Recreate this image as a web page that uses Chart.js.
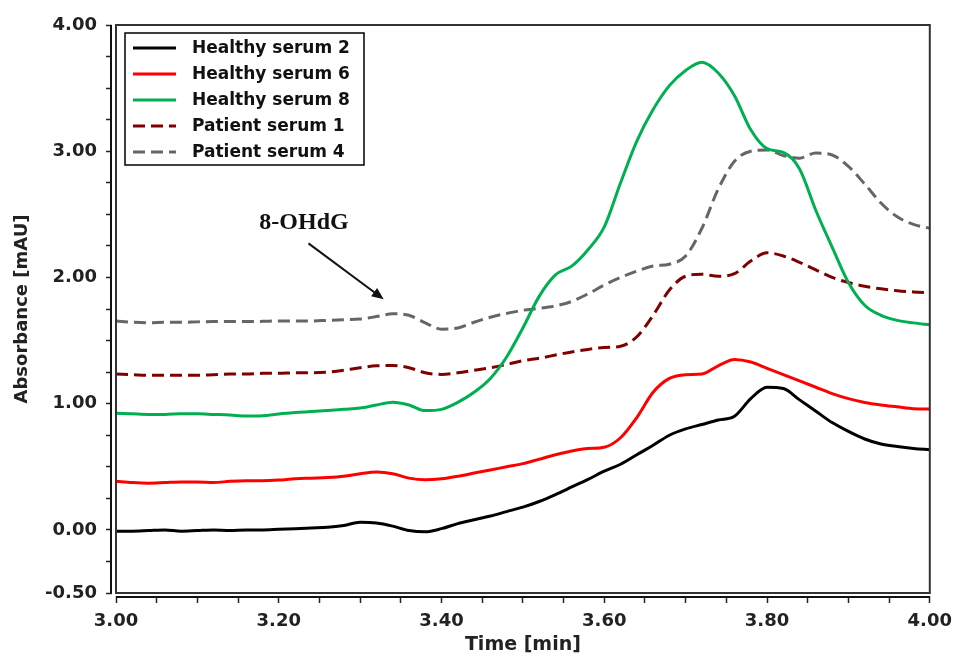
<!DOCTYPE html>
<html lang="en">
<head>
    <meta charset="UTF-8">
    <title>Absorbance vs Time</title>
    <script src="https://cdn.jsdelivr.net/npm/chart.js"></script>
    <style>
        html, body {
            margin: 0;
            padding: 0;
            background: #ffffff;
        }
        #wrap {
            width: 960px;
            height: 657px;
        }
    </style>
</head>
<body>
    <div id="wrap"><canvas id="grafica"></canvas></div>

    <script>
        // tiempo (min), paso 0.02
        const tiempos = [
            3.00, 3.02, 3.04, 3.06, 3.08, 3.10, 3.12, 3.14, 3.16, 3.18,
            3.20, 3.22, 3.24, 3.26, 3.28, 3.30, 3.32, 3.34, 3.36, 3.38,
            3.40, 3.42, 3.44, 3.46, 3.48, 3.50, 3.52, 3.54, 3.56, 3.58,
            3.60, 3.62, 3.64, 3.66, 3.68, 3.70, 3.72, 3.74, 3.76, 3.78,
            3.80, 3.82, 3.84, 3.86, 3.88, 3.90, 3.92, 3.94, 3.96, 3.98, 4.00
        ];

        const healthy2 = [
            -0.01, -0.01, -0.005, 0.0, -0.01, -0.005, 0.0, -0.005, 0.0, 0.0,
            0.005, 0.01, 0.015, 0.02, 0.035, 0.06, 0.055, 0.03, -0.005, -0.015,
            0.01, 0.05, 0.08, 0.11, 0.145, 0.18, 0.225, 0.28, 0.34, 0.40,
            0.465, 0.52, 0.595, 0.67, 0.75, 0.80, 0.835, 0.87, 0.90, 1.04,
            1.13, 1.12, 1.03, 0.94, 0.85, 0.78, 0.72, 0.68, 0.66, 0.645, 0.635
        ];

        const healthy6 = [
            0.385, 0.375, 0.37, 0.375, 0.38, 0.38, 0.375, 0.385, 0.39, 0.39,
            0.395, 0.405, 0.41, 0.415, 0.425, 0.445, 0.458, 0.445, 0.41, 0.397,
            0.405, 0.425, 0.45, 0.475, 0.50, 0.525, 0.56, 0.595, 0.625, 0.645,
            0.655, 0.73, 0.89, 1.09, 1.20, 1.23, 1.235, 1.30, 1.35, 1.33,
            1.28, 1.23, 1.18, 1.13, 1.08, 1.04, 1.01, 0.99, 0.975, 0.96, 0.958
        ];

        const healthy8 = [
            0.925, 0.92, 0.915, 0.915, 0.92, 0.92, 0.915, 0.91, 0.902, 0.905,
            0.918, 0.93, 0.937, 0.945, 0.955, 0.965, 0.99, 1.012, 0.99, 0.945,
            0.955, 1.01, 1.09, 1.20, 1.37, 1.60, 1.85, 2.02, 2.09, 2.22,
            2.40, 2.75, 3.08, 3.33, 3.52, 3.64, 3.705, 3.62, 3.44, 3.17,
            3.02, 2.99, 2.86, 2.53, 2.24, 1.96, 1.78, 1.70, 1.66, 1.64, 1.625
        ];

        const patient1 = [
            1.235, 1.23, 1.225, 1.225, 1.225, 1.225, 1.23, 1.235, 1.235, 1.24,
            1.24, 1.245, 1.245, 1.25, 1.265, 1.285, 1.30, 1.302, 1.285, 1.245,
            1.232, 1.245, 1.265, 1.285, 1.31, 1.34, 1.36, 1.385, 1.41, 1.43,
            1.445, 1.455, 1.53, 1.70, 1.90, 2.01, 2.025, 2.01, 2.03, 2.13,
            2.195, 2.17, 2.12, 2.06, 2.00, 1.96, 1.93, 1.91, 1.895, 1.885, 1.88
        ];

        const patient4 = [
            1.655, 1.645, 1.64, 1.645, 1.645, 1.648, 1.65, 1.65, 1.65, 1.652,
            1.655, 1.655, 1.655, 1.66, 1.665, 1.67, 1.69, 1.712, 1.70, 1.64,
            1.59, 1.60, 1.645, 1.685, 1.715, 1.74, 1.755, 1.775, 1.81, 1.87,
            1.94, 2.00, 2.05, 2.09, 2.105, 2.17, 2.39, 2.70, 2.92, 3.00,
            3.01, 2.965, 2.945, 2.985, 2.97, 2.88, 2.74, 2.59, 2.48, 2.42, 2.39
        ];

        const nombresSeries = ['Healthy serum 2', 'Healthy serum 6', 'Healthy serum 8', 'Patient serum 1', 'Patient serum 4'];
        const coloresSeries = ['#000000', '#ff0000', '#00b050', '#800000', '#666666'];
        const valoresSeries = [healthy2, healthy6, healthy8, patient1, patient4];

        // anotacion: texto y flecha en coordenadas de datos
        const textoPico = '8-OHdG';
        const posTexto = [3.231, 2.43];
        const flechaDesde = [3.2365, 2.27];
        const flechaHasta = [3.329, 1.827];

        const fuente = "'DejaVu Sans', Arial, sans-serif";

        const datasets = valoresSeries.map((vals, i) => ({
            label: nombresSeries[i],
            data: tiempos.map((t, j) => ({ x: t, y: vals[j] })),
            borderColor: coloresSeries[i],
            borderWidth: 3,
            borderDash: i >= 3 ? [12, 6] : [],
            pointRadius: 0,
            fill: false,
            cubicInterpolationMode: 'monotone'
        }));

        // marco, ejes desplazados, leyenda y anotacion
        const marcoPlugin = {
            id: 'marco',
            afterDraw(chart) {
                const ctx = chart.ctx;
                const a = chart.chartArea;
                const xs = chart.scales.x;
                const ys = chart.scales.y;
                ctx.save();

                // hueco blanco entre marco y ejes
                ctx.fillStyle = '#ffffff';
                ctx.fillRect(a.left - 4, a.top - 2, 3, a.bottom - a.top + 10);
                ctx.fillRect(a.left - 4, a.bottom + 1, a.right - a.left + 8, 2);

                // marco
                ctx.strokeStyle = '#333333';
                ctx.lineWidth = 2;
                ctx.strokeRect(a.left, a.top, a.right - a.left, a.bottom - a.top);

                // ejes
                ctx.strokeStyle = '#111111';
                ctx.beginPath();
                ctx.moveTo(a.left - 5, a.top);
                ctx.lineTo(a.left - 5, a.bottom);
                ctx.moveTo(a.left, a.bottom + 4);
                ctx.lineTo(a.right, a.bottom + 4);
                ctx.stroke();

                // leyenda
                const lx = a.left + 9, ly = a.top + 8, lw = 239, lh = 132;
                ctx.fillStyle = '#ffffff';
                ctx.fillRect(lx, ly, lw, lh);
                ctx.strokeStyle = '#000000';
                ctx.lineWidth = 1.5;
                ctx.strokeRect(lx, ly, lw, lh);
                ctx.font = 'bold 17px ' + fuente;
                ctx.textBaseline = 'middle';
                ctx.textAlign = 'left';
                chart.data.datasets.forEach((ds, i) => {
                    const yy = ly + 15 + i * 26;
                    ctx.strokeStyle = ds.borderColor;
                    ctx.lineWidth = 3;
                    ctx.setLineDash(ds.borderDash);
                    ctx.beginPath();
                    ctx.moveTo(lx + 8, yy);
                    ctx.lineTo(lx + 51, yy);
                    ctx.stroke();
                    ctx.setLineDash([]);
                    ctx.fillStyle = '#111111';
                    ctx.fillText(ds.label, lx + 67, yy + 1);
                });

                // anotacion 8-OHdG
                ctx.font = "bold 24px 'Liberation Serif', 'Times New Roman', serif";
                ctx.textAlign = 'center';
                ctx.fillStyle = '#111111';
                ctx.fillText(textoPico, xs.getPixelForValue(posTexto[0]), ys.getPixelForValue(posTexto[1]));

                const x1 = xs.getPixelForValue(flechaDesde[0]), y1 = ys.getPixelForValue(flechaDesde[1]);
                const x2 = xs.getPixelForValue(flechaHasta[0]), y2 = ys.getPixelForValue(flechaHasta[1]);
                const ang = Math.atan2(y2 - y1, x2 - x1);
                ctx.strokeStyle = '#111111';
                ctx.lineWidth = 2;
                ctx.beginPath();
                ctx.moveTo(x1, y1);
                ctx.lineTo(x2 - 8 * Math.cos(ang), y2 - 8 * Math.sin(ang));
                ctx.stroke();
                ctx.fillStyle = '#111111';
                ctx.beginPath();
                ctx.moveTo(x2, y2);
                ctx.lineTo(x2 - 12 * Math.cos(ang) + 5 * Math.sin(ang), y2 - 12 * Math.sin(ang) - 5 * Math.cos(ang));
                ctx.lineTo(x2 - 12 * Math.cos(ang) - 5 * Math.sin(ang), y2 - 12 * Math.sin(ang) + 5 * Math.cos(ang));
                ctx.closePath();
                ctx.fill();

                ctx.restore();
            }
        };

        new Chart(document.getElementById('grafica').getContext('2d'), {
            type: 'line',
            data: { datasets: datasets },
            plugins: [marcoPlugin],
            options: {
                responsive: true,
                maintainAspectRatio: false,
                animation: false,
                layout: { padding: { top: 25, right: 23, left: 0, bottom: 0 } },
                plugins: {
                    legend: { display: false },
                    tooltip: { enabled: false }
                },
                scales: {
                    x: {
                        type: 'linear',
                        min: 3,
                        max: 4,
                        afterFit: s => { s.height = 64; },
                        border: { display: false },
                        grid: { drawOnChartArea: false, drawTicks: true, tickLength: 10, tickColor: '#222', tickWidth: 1.5 },
                        ticks: {
                            stepSize: 0.05,
                            autoSkip: false,
                            maxRotation: 0,
                            padding: 8,
                            color: '#222',
                            font: { family: fuente, size: 18, weight: 'bold' },
                            callback: v => Math.abs(v * 5 - Math.round(v * 5)) < 1e-6 ? v.toFixed(2) : ''
                        },
                        title: {
                            display: true,
                            text: 'Time [min]',
                            color: '#222',
                            font: { family: fuente, size: 19, weight: 'bold' },
                            padding: { top: 0, bottom: 1 }
                        }
                    },
                    y: {
                        min: -0.5,
                        max: 4,
                        afterFit: s => { s.width = 116; },
                        border: { display: false },
                        grid: { drawOnChartArea: false, drawTicks: true, tickLength: 10, tickColor: '#222', tickWidth: 1.5 },
                        ticks: {
                            stepSize: 0.25,
                            autoSkip: false,
                            padding: 9,
                            color: '#222',
                            font: { family: fuente, size: 18, weight: 'bold' },
                            callback: v => (Math.abs(v - Math.round(v)) < 1e-6 || Math.abs(v + 0.5) < 1e-6) ? v.toFixed(2) : ''
                        },
                        title: {
                            display: true,
                            text: 'Absorbance [mAU]',
                            color: '#222',
                            font: { family: fuente, size: 18, weight: 'bold' },
                            padding: { top: 12, bottom: 0 }
                        }
                    }
                }
            }
        });
    </script>
</body>
</html>
